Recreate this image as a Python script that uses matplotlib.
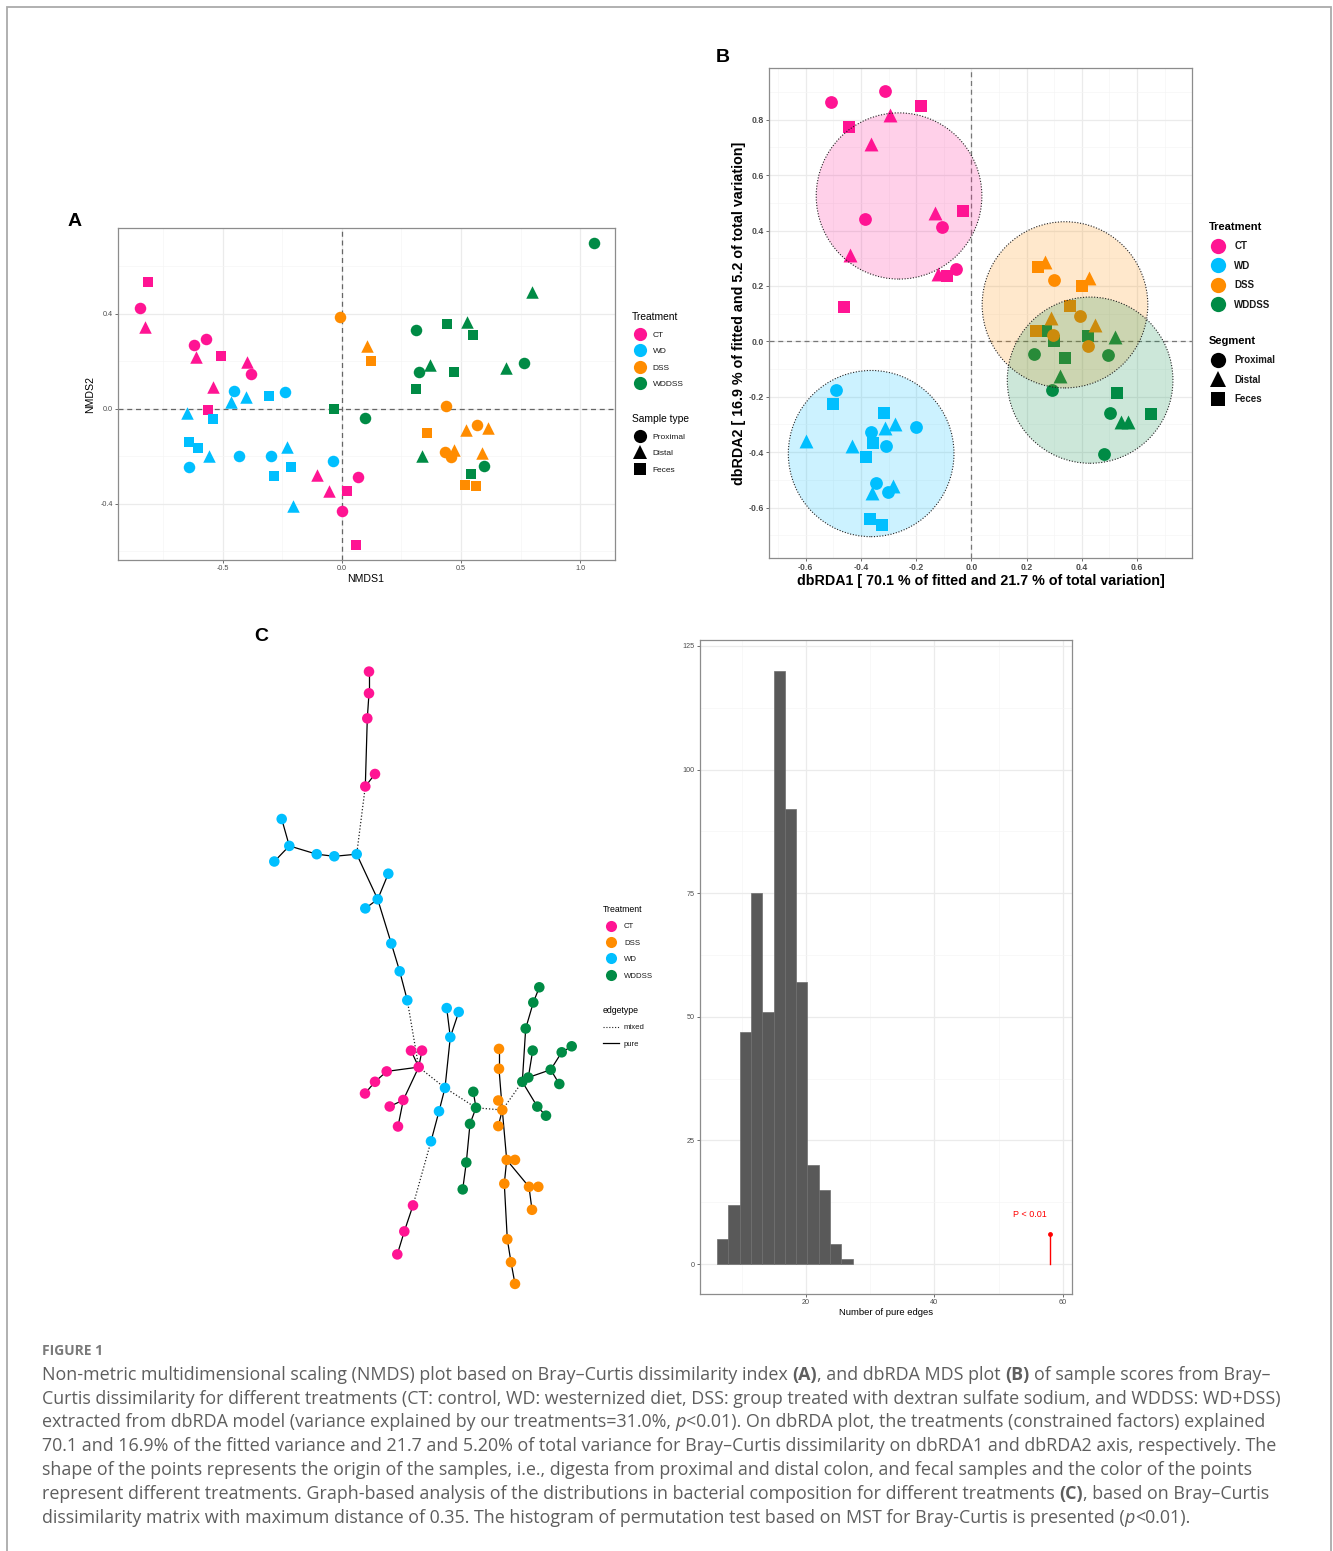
import matplotlib
matplotlib.use("Agg")
import matplotlib.pyplot as plt
from matplotlib.lines import Line2D
from matplotlib.patches import Ellipse, Rectangle

W, H = 1333, 1551
DPI = 100
plt.rcParams['font.family'] = ['Liberation Sans', 'DejaVu Sans']

# ------------------------------------------------------------------ data
treat_colors = {"CT": "#FF1493", "WD": "#00BFFF", "DSS": "#FF8C00", "WDDSS": "#008B45"}
shape_marker = {"C": "o", "T": "^", "S": "s"}
seg_names = {"C": "Proximal", "T": "Distal", "S": "Feces"}

# Panel A : NMDS
nmds_ct_x = [-0.813, -0.847, -0.828, -0.622, -0.570, -0.615, -0.507, -0.397, -0.381, -0.540, -0.564, -0.105, -0.055, 0.021, 0.067, 0.000, 0.057]
nmds_ct_y = [0.533, 0.425, 0.347, 0.271, 0.295, 0.218, 0.222, 0.196, 0.147, 0.091, -0.003, -0.278, -0.347, -0.345, -0.285, -0.429, -0.573]
nmds_ct_s = list("SCTCCTSTCTSTTSCCS")
nmds_wd_x = [-0.454, -0.402, -0.467, -0.308, -0.239, -0.651, -0.540, -0.644, -0.603, -0.558, -0.433, -0.644, -0.299, -0.232, -0.215, -0.287, -0.038, -0.206]
nmds_wd_y = [0.076, 0.049, 0.031, 0.056, 0.070, -0.018, -0.042, -0.140, -0.164, -0.196, -0.196, -0.246, -0.196, -0.161, -0.246, -0.281, -0.218, -0.407]
nmds_wd_s = list("CTTSCTSSSTCCCTSSCT")
nmds_dss_x = [-0.007, 0.105, 0.120, 0.438, 0.359, 0.521, 0.569, 0.612, 0.433, 0.469, 0.460, 0.588, 0.517, 0.565]
nmds_dss_y = [0.389, 0.267, 0.201, 0.014, -0.101, -0.088, -0.066, -0.080, -0.182, -0.171, -0.201, -0.185, -0.319, -0.323]
nmds_dss_s = list("CTSCSTCTCTCTSS")
nmds_wddss_x = [1.060, 0.799, 0.309, 0.440, 0.524, 0.552, 0.369, 0.325, 0.469, 0.687, 0.766, 0.311, -0.034, 0.096, 0.335, 0.595, 0.543]
nmds_wddss_y = [0.699, 0.494, 0.333, 0.359, 0.368, 0.312, 0.185, 0.154, 0.154, 0.171, 0.192, 0.084, 0.000, -0.039, -0.199, -0.241, -0.274]
nmds_wddss_s = list("CTCSTSTCSTCSSCTCS")

# Panel B : dbRDA
rda_ct_x = [-0.510, -0.313, -0.184, -0.443, -0.295, -0.363, -0.385, -0.132, -0.032, -0.108, -0.439, -0.122, -0.090, -0.055, -0.463]
rda_ct_y = [0.866, 0.905, 0.849, 0.774, 0.819, 0.714, 0.441, 0.464, 0.472, 0.414, 0.311, 0.244, 0.235, 0.261, 0.125]
rda_ct_s = list("CCSSTTCTSCTTSCS")
rda_wd_x = [-0.492, -0.503, -0.598, -0.317, -0.277, -0.314, -0.364, -0.202, -0.432, -0.357, -0.310, -0.382, -0.345, -0.284, -0.303, -0.359, -0.367, -0.323]
rda_wd_y = [-0.176, -0.225, -0.360, -0.257, -0.298, -0.311, -0.328, -0.309, -0.376, -0.367, -0.377, -0.418, -0.511, -0.523, -0.544, -0.549, -0.643, -0.662]
rda_wd_s = list("CSTSTTCCTSCSCTCTSS")
rda_dss_x = [0.241, 0.267, 0.298, 0.402, 0.425, 0.357, 0.395, 0.287, 0.447, 0.235, 0.294, 0.422]
rda_dss_y = [0.270, 0.287, 0.223, 0.199, 0.228, 0.129, 0.090, 0.086, 0.060, 0.039, 0.022, -0.015]
rda_dss_s = list("STCSTSCTTSCC")
rda_wddss_x = [0.270, 0.226, 0.298, 0.422, 0.519, 0.339, 0.494, 0.321, 0.291, 0.529, 0.501, 0.651, 0.543, 0.568, 0.481]
rda_wddss_y = [0.039, -0.045, 0.003, 0.019, 0.017, -0.060, -0.048, -0.126, -0.174, -0.186, -0.257, -0.261, -0.292, -0.292, -0.408]
rda_wddss_s = list("SCSSTSCTCSCSTTC")
# euclidean ellipse centres (radius 0.3)
ell_center_x = {"CT": -0.262, "WD": -0.363, "DSS": 0.339, "WDDSS": 0.430}
ell_center_y = {"CT": 0.525, "WD": -0.405, "DSS": 0.132, "WDDSS": -0.140}
ell_radius = 0.30

# Panel C : MST layout (layout units) and groups
node_x = [369, 369, 367.3, 375, 365.3, 356.7, 334.3, 316.7, 289.3, 281.7, 274.3, 377.7, 388.3, 365.3, 391.3, 399.7, 407.3,
          411, 422, 418.7, 386.7, 375, 365, 403.3, 389.7, 398, 446.7, 458.7, 450.3, 445, 439, 431, 413, 404.3, 397.3,
          473.3, 476, 470, 466.3, 462.7, 499, 499, 498.3, 502.3, 498.3, 506.7, 515, 529, 538.3, 532, 504.3, 507.3, 511, 515,
          539.3, 533.3, 525.7, 522.3, 528.3, 532.7, 550.7, 561.7, 571.7, 559.3, 537.3, 546]
node_y = [671.6, 693.3, 718.4, 774, 786.5, 854.2, 856.3, 854.2, 845.9, 819, 861.5, 899.3, 873.7, 908.4, 943.5, 971.3, 1000.3,
          1050.6, 1050.6, 1067.1, 1071.4, 1081.8, 1093.5, 1100, 1106.5, 1126.5, 1008.1, 1012, 1037.2, 1087.9, 1111.3, 1141.3, 1205.4, 1231.4, 1254.4,
          1091.8, 1107.8, 1123.9, 1162.5, 1189.4, 1048.9, 1068.8, 1100.5, 1110, 1126.1, 1159.9, 1159.9, 1186.8, 1186.8, 1209.8, 1183.7, 1239.3, 1262.2, 1283.9,
          987.3, 1002.5, 1028.5, 1081.8, 1077.5, 1050.6, 1069.7, 1052.3, 1046.3, 1084, 1106.6, 1115.7]
node_group = (["CT"] * 5 + ["WD"] * 12 + ["CT"] * 9 + ["WD"] * 6 + ["CT"] * 3 + ["WDDSS"] * 5 + ["DSS"] * 14 + ["WDDSS"] * 12)
pure_edges = [(1, 2), (2, 3), (3, 5), (5, 4), (6, 7), (7, 8), (8, 9), (9, 10), (9, 11), (6, 12), (12, 13), (12, 14), (12, 15),
              (15, 16), (16, 17), (18, 20), (19, 20), (20, 21), (21, 22), (22, 23), (20, 24), (24, 25), (24, 26), (27, 29),
              (28, 29), (29, 30), (30, 31), (31, 32), (33, 34), (34, 35), (36, 37), (37, 38), (38, 39), (39, 40), (41, 42),
              (42, 44), (43, 44), (44, 45), (44, 46), (46, 47), (46, 48), (48, 49), (48, 50), (46, 51), (51, 52), (52, 53),
              (53, 54), (55, 56), (56, 57), (57, 58), (58, 59), (59, 60), (59, 61), (61, 62), (62, 63), (61, 64), (58, 65), (65, 66)]
mixed_edges = [(5, 6), (17, 20), (20, 30), (30, 37), (37, 44), (44, 58), (32, 33)]
net_legend_order = ["CT", "DSS", "WD", "WDDSS"]

# Panel C : permutation histogram
hist_edges = [6.20, 7.96, 9.71, 11.47, 13.23, 14.99, 16.74, 18.50, 20.26, 22.01, 23.77, 25.53, 27.29]
hist_counts = [5, 12, 47, 75, 51, 120, 92, 57, 20, 15, 4, 1]
observed_pure = 58
observed_mark_height = 6

# ------------------------------------------------------------------ helpers
fig = plt.figure(figsize=(W / DPI, H / DPI), dpi=DPI)
fig.patch.set_facecolor("white")


def rect(l, t, r, b):
    return [l / W, 1 - b / H, (r - l) / W, (b - t) / H]


def theme_bw(ax, xmaj, xmin, ymaj, ymin, size, weight="normal"):
    ax.set_xticks(xmaj)
    ax.set_xticks(xmin, minor=True)
    ax.set_yticks(ymaj)
    ax.set_yticks(ymin, minor=True)
    ax.grid(True, which="major", color="#EBEBEB", lw=0.9)
    ax.grid(True, which="minor", color="#F5F5F5", lw=0.5)
    ax.set_axisbelow(True)
    for s in ax.spines.values():
        s.set_color("#8C8C8C")
        s.set_linewidth(0.9)
    ax.tick_params(which="major", length=2.2, width=0.6, color="#555555", labelsize=size,
                   labelcolor="#4D4D4D", pad=1.5)
    ax.tick_params(which="minor", length=0)
    for lab in ax.get_xticklabels() + ax.get_yticklabels():
        lab.set_fontweight(weight)


def scatter_group(ax, xs, ys, ss, color, sizes, z=3):
    for code, mk in shape_marker.items():
        px = [x for x, s in zip(xs, ss) if s == code]
        py = [y for y, s in zip(ys, ss) if s == code]
        if px:
            ax.scatter(px, py, marker=mk, s=sizes[code] ** 2, color=color, linewidths=0, zorder=z)


def legend_pair(tx, ty, title, labels, handles, fs, tfs, tweight, hl, htp, ls):
    lg = fig.legend(handles=handles, labels=labels, title=title, loc="upper left",
                    bbox_to_anchor=(tx / W, 1 - ty / H), bbox_transform=fig.transFigure,
                    frameon=False, borderpad=0, borderaxespad=0, fontsize=fs,
                    title_fontproperties={"size": tfs, "weight": tweight},
                    handlelength=hl, handletextpad=htp, labelspacing=ls, alignment="left",
                    handleheight=0.7)
    for t in lg.get_texts():
        t.set_color("#1A1A1A")
        t.set_fontweight(tweight if tweight == "bold" else "normal")
    return lg


# ------------------------------------------------------------------ Panel A
axA = fig.add_axes(rect(118, 228, 615, 560))
axA.set_xlim(-0.941, 1.147)
axA.set_ylim(-0.636, 0.762)
theme_bw(axA, [-0.5, 0.0, 0.5, 1.0], [-0.75, -0.25, 0.25, 0.75], [-0.4, 0.0, 0.4], [-0.6, -0.2, 0.2, 0.6], 5.2)
axA.set_xticklabels(["-0.5", "0.0", "0.5", "1.0"])
axA.set_yticklabels(["-0.4", "0.0", "0.4"])
axA.axhline(0, color="#666666", lw=0.9, ls=(0, (4, 3)), zorder=2)
axA.axvline(0, color="#666666", lw=0.9, ls=(0, (4, 3)), zorder=2)
sizesA = {"C": 8.3, "T": 9.0, "S": 7.8}
scatter_group(axA, nmds_ct_x, nmds_ct_y, nmds_ct_s, treat_colors["CT"], sizesA)
scatter_group(axA, nmds_wd_x, nmds_wd_y, nmds_wd_s, treat_colors["WD"], sizesA)
scatter_group(axA, nmds_dss_x, nmds_dss_y, nmds_dss_s, treat_colors["DSS"], sizesA)
scatter_group(axA, nmds_wddss_x, nmds_wddss_y, nmds_wddss_s, treat_colors["WDDSS"], sizesA)
axA.set_xlabel("NMDS1", fontsize=7.6, color="black")
axA.set_ylabel("NMDS2", fontsize=7.6, color="black")
axA.xaxis.set_label_coords(0.499, -0.057)
axA.xaxis.label.set_va("center")
axA.yaxis.set_label_coords(-0.056, 0.497)
axA.yaxis.label.set_va("center")

hA = [Line2D([], [], ls="", marker="o", ms=9.5, mew=0, color=treat_colors[t]) for t in ["CT", "WD", "DSS", "WDDSS"]]
legend_pair(632, 312, "Treatment", ["CT", "WD", "DSS", "WDDSS"], hA, 6, 7.4, "normal", 1.9, 0.6, 1.05)
hA2 = [Line2D([], [], ls="", marker=shape_marker[c], ms=9.5 if c != "S" else 9, mew=0, color="black") for c in ["C", "T", "S"]]
legend_pair(632, 414, "Sample type", [seg_names[c] for c in ["C", "T", "S"]], hA2, 6, 7.4, "normal", 1.9, 0.6, 1.05)

# ------------------------------------------------------------------ Panel B
axB = fig.add_axes(rect(769, 68, 1192, 558))
axB.set_xlim(-0.733, 0.799)
axB.set_ylim(-0.782, 0.987)
theme_bw(axB, [-0.6, -0.4, -0.2, 0.0, 0.2, 0.4, 0.6], [-0.7, -0.5, -0.3, -0.1, 0.1, 0.3, 0.5, 0.7],
         [-0.6, -0.4, -0.2, 0.0, 0.2, 0.4, 0.6, 0.8], [-0.7, -0.5, -0.3, -0.1, 0.1, 0.3, 0.5, 0.7, 0.9], 6.3, "bold")
axB.set_xticklabels(["-0.6", "-0.4", "-0.2", "0.0", "0.2", "0.4", "0.6"], fontweight="bold")
axB.set_yticklabels(["-0.6", "-0.4", "-0.2", "0.0", "0.2", "0.4", "0.6", "0.8"], fontweight="bold")
axB.axhline(0, color="#777777", lw=0.9, ls=(0, (4, 3)), zorder=2)
axB.axvline(0, color="#777777", lw=0.9, ls=(0, (4, 3)), zorder=2)
sizesB = {"C": 9.2, "T": 10.0, "S": 8.8}
scatter_group(axB, rda_ct_x, rda_ct_y, rda_ct_s, treat_colors["CT"], sizesB)
scatter_group(axB, rda_wd_x, rda_wd_y, rda_wd_s, treat_colors["WD"], sizesB)
scatter_group(axB, rda_wddss_x, rda_wddss_y, rda_wddss_s, treat_colors["WDDSS"], sizesB)
scatter_group(axB, rda_dss_x, rda_dss_y, rda_dss_s, treat_colors["DSS"], sizesB)
for t in ["CT", "WD", "DSS", "WDDSS"]:
    axB.add_patch(Ellipse((ell_center_x[t], ell_center_y[t]), 2 * ell_radius, 2 * ell_radius,
                          facecolor=treat_colors[t], alpha=0.2, edgecolor="none", zorder=4))
    axB.add_patch(Ellipse((ell_center_x[t], ell_center_y[t]), 2 * ell_radius, 2 * ell_radius,
                          facecolor="none", edgecolor="#222222", lw=0.8, ls=(0, (1, 1.5)), zorder=5))
axB.set_xlabel("dbRDA1 [ 70.1 % of fitted and 21.7 % of total variation]", fontsize=10.3, fontweight="bold")
axB.set_ylabel("dbRDA2 [ 16.9 % of fitted and 5.2 of total variation]", fontsize=10.3, fontweight="bold")
axB.xaxis.set_label_coords(0.501, -0.047)
axB.xaxis.label.set_va("center")
axB.yaxis.set_label_coords(-0.071, 0.5)
axB.yaxis.label.set_va("center")

hB = [Line2D([], [], ls="", marker="o", ms=11, mew=0, color=treat_colors[t]) for t in ["CT", "WD", "DSS", "WDDSS"]]
legend_pair(1209, 222, "Treatment", ["CT", "WD", "DSS", "WDDSS"], hB, 7, 8, "bold", 1.85, 0.75, 0.97)
hB2 = [Line2D([], [], ls="", marker=shape_marker[c], ms=11 if c != "S" else 10, mew=0, color="black") for c in ["C", "T", "S"]]
legend_pair(1209, 336, "Segment", [seg_names[c] for c in ["C", "T", "S"]], hB2, 7, 8, "bold", 1.85, 0.75, 0.97)

# ------------------------------------------------------------------ Panel C network
axN = fig.add_axes(rect(240, 640, 600, 1300))
axN.set_xlim(240, 600)
axN.set_ylim(1300, 640)
axN.axis("off")
for a, b in pure_edges:
    axN.plot([node_x[a - 1], node_x[b - 1]], [node_y[a - 1], node_y[b - 1]], color="black", lw=0.9, zorder=1)
for a, b in mixed_edges:
    axN.plot([node_x[a - 1], node_x[b - 1]], [node_y[a - 1], node_y[b - 1]], color="#222222", lw=0.9,
             ls=(0, (1, 1.6)), zorder=1)
axN.scatter(node_x, node_y, s=7.6 ** 2, c=[treat_colors[g] for g in node_group], linewidths=0, zorder=2)

hC = [Line2D([], [], ls="", marker="o", ms=8, mew=0, color=treat_colors[t]) for t in net_legend_order]
legend_pair(603, 905, "Treatment", net_legend_order, hC, 5.6, 6.3, "normal", 2.05, 0.64, 1.15)
hC2 = [Line2D([], [], color="#222222", lw=0.8, ls=(0, (1, 1.6))), Line2D([], [], color="black", lw=0.9)]
legend_pair(603, 1006, "edgetype", ["mixed", "pure"], hC2, 5.6, 6.3, "normal", 2.05, 0.64, 1.15)

# ------------------------------------------------------------------ Panel C histogram
axH = fig.add_axes(rect(700, 640, 1072, 1294))
axH.set_xlim(3.54, 61.4)
axH.set_ylim(-6.06, 126.2)
theme_bw(axH, [20, 40, 60], [10, 30, 50], [0, 25, 50, 75, 100, 125], [12.5, 37.5, 62.5, 87.5, 112.5], 5.2)
lefts = hist_edges[:-1]
widths = [b - a for a, b in zip(hist_edges[:-1], hist_edges[1:])]
axH.bar(lefts, hist_counts, width=widths, align="edge", color="#595959", edgecolor="#6E6E6E", linewidth=0.5, zorder=3)
axH.plot([observed_pure, observed_pure], [0, observed_mark_height], color="#FF0000", lw=1.0, zorder=4)
axH.scatter([observed_pure], [observed_mark_height], s=3.5 ** 2, color="#FF0000", linewidths=0, zorder=5)
axH.text(observed_pure - 3.1, observed_mark_height + 4, "P < 0.01", color="#FF0000", fontsize=6.5,
         ha="center", va="center")
axH.set_xlabel("Number of pure edges", fontsize=6.8)
axH.xaxis.set_label_coords(0.5, -0.029)
axH.xaxis.label.set_va("center")

# ------------------------------------------------------------------ panel letters
for letter, (px, py) in {"A": (75, 222), "B": (723, 58), "C": (261, 636)}.items():
    fig.text(px / W, 1 - py / H, letter, fontsize=14, fontweight="bold", ha="center", va="center")

# ------------------------------------------------------------------ frame
fig.add_artist(Rectangle((7.5 / W, -0.01), (1331 - 7.5) / W, (H - 7 + 16) / H, transform=fig.transFigure,
                         fill=False, edgecolor="#AAAAAA", lw=1.3))

# ------------------------------------------------------------------ caption
cap_family = ["Open Sans", "DejaVu Sans"]
cap_color = "#5E5E5E"
cap_size = 12.9
renderer = fig.canvas.get_renderer()


def text_width(s, **kw):
    t = fig.text(0, 0, s, **kw)
    w = t.get_window_extent(renderer).width
    t.remove()
    return w


caption_lines = [
    [("Non-metric multidimensional scaling (NMDS) plot based on Bray–Curtis dissimilarity index ", "n"), ("(A)", "b"),
     (", and dbRDA MDS plot ", "n"), ("(B)", "b"), (" of sample scores from Bray–", "n")],
    [("Curtis dissimilarity for different treatments (CT: control, WD: westernized diet, DSS: group treated with dextran sulfate sodium, and WDDSS: WD+DSS)", "n")],
    [("extracted from dbRDA model (variance explained by our treatments=31.0%, ", "n"), ("p", "i"),
     ("<0.01). On dbRDA plot, the treatments (constrained factors) explained", "n")],
    [("70.1 and 16.9% of the fitted variance and 21.7 and 5.20% of total variance for Bray–Curtis dissimilarity on dbRDA1 and dbRDA2 axis, respectively. The", "n")],
    [("shape of the points represents the origin of the samples, i.e., digesta from proximal and distal colon, and fecal samples and the color of the points", "n")],
    [("represent different treatments. Graph-based analysis of the distributions in bacterial composition for different treatments ", "n"),
     ("(C)", "b"), (", based on Bray–Curtis", "n")],
    [("dissimilarity matrix with maximum distance of 0.35. The histogram of permutation test based on MST for Bray-Curtis is presented (", "n"),
     ("p", "i"), ("<0.01).", "n")],
]
line_baselines = [1380, 1404, 1427, 1451, 1475, 1499, 1523]
style_kw = {"n": {"fontweight": "normal", "fontstyle": "normal"},
            "b": {"fontweight": "bold", "fontstyle": "normal"},
            "i": {"fontweight": "normal", "fontstyle": "italic"}}

space_w = text_width("x x", family=cap_family, fontsize=cap_size) - text_width("xx", family=cap_family, fontsize=cap_size)

for runs, base in zip(caption_lines, line_baselines):
    x = 42.0
    for txt, st in runs:
        lead = len(txt) - len(txt.lstrip(" "))
        trail = len(txt) - len(txt.rstrip(" "))
        core = txt.strip(" ")
        x += lead * space_w
        t = fig.text(x / W, 1 - base / H, core, family=cap_family, fontsize=cap_size, color=cap_color,
                     ha="left", va="baseline", **style_kw[st])
        x += t.get_window_extent(renderer).width + trail * space_w

fig.text(42 / W, 1 - 1355 / H, "FIGURE 1", family=cap_family, fontsize=10, fontweight="bold", color="#7A7A7A",
         ha="left", va="baseline")

fig.savefig("out.png", dpi=DPI, facecolor="white")
